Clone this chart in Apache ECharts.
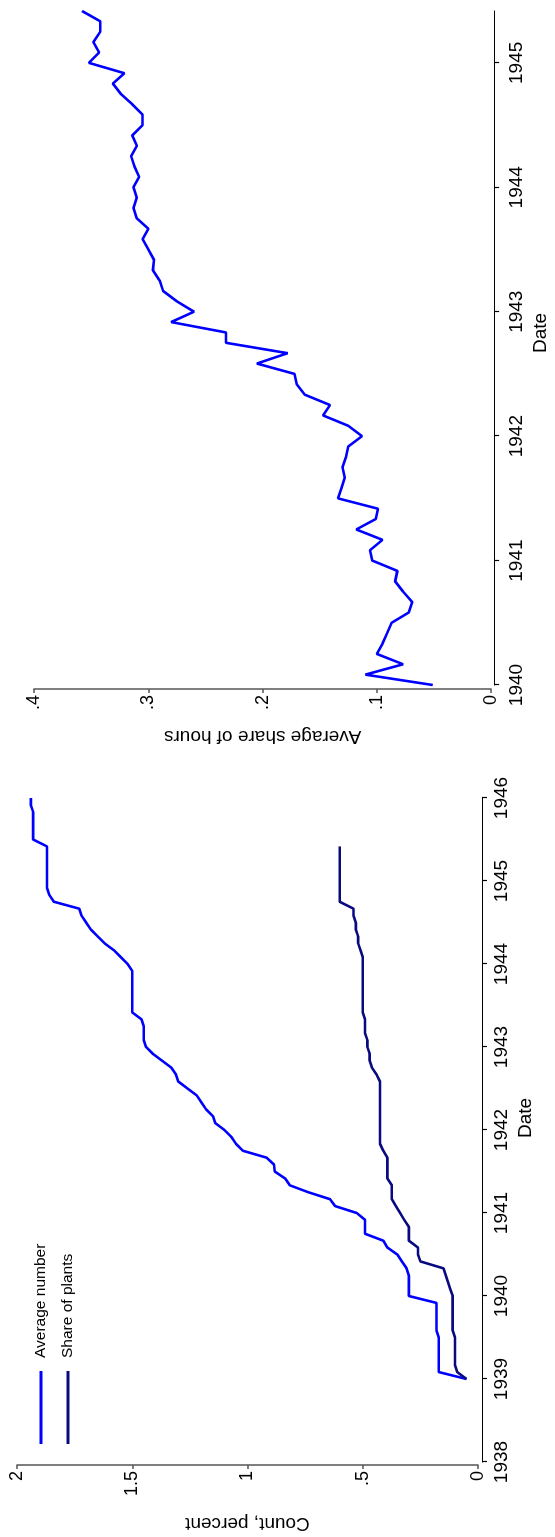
<!DOCTYPE html>
<html><head><meta charset="utf-8">
<script src="https://cdn.jsdelivr.net/npm/echarts@6/dist/echarts.min.js"></script>
<style>
html,body{margin:0;padding:0;background:#fff;width:555px;height:1537px;overflow:hidden}
#chart{position:absolute;left:0;top:0;width:1537px;height:555px;transform-origin:0 0;transform:translate(0,1537px) rotate(-90deg);background:#fff}
</style></head><body>
<div id="chart"></div>
<script>
// ---------- data ----------
const countMonths = [
'1939-01','1939-02','1939-03','1939-04','1939-05','1939-06','1939-07','1939-08','1939-09','1939-10','1939-11','1939-12',
'1940-01','1940-02','1940-03','1940-04','1940-05','1940-06','1940-07','1940-08','1940-09','1940-10','1940-11','1940-12',
'1941-01','1941-02','1941-03','1941-04','1941-05','1941-06','1941-07','1941-08','1941-09','1941-10','1941-11','1941-12',
'1942-01','1942-02','1942-03','1942-04','1942-05','1942-06','1942-07','1942-08','1942-09','1942-10','1942-11','1942-12',
'1943-01','1943-02','1943-03','1943-04','1943-05','1943-06','1943-07','1943-08','1943-09','1943-10','1943-11','1943-12',
'1944-01','1944-02','1944-03','1944-04','1944-05','1944-06','1944-07','1944-08','1944-09','1944-10','1944-11','1944-12',
'1945-01','1945-02','1945-03','1945-04','1945-05','1945-06','1945-07','1945-08','1945-09','1945-10','1945-11','1945-12',
'1946-01'];
// Average number (per month, Jan 1939 - Jan 1946)
const avgNumber = [
0.05,0.17,0.17,0.17,0.17,0.17,0.17,0.18,0.18,0.18,0.18,0.18,
0.30,0.30,0.30,0.30,0.31,0.33,0.35,0.393,0.411,0.49,0.49,0.49,
0.526,0.62,0.642,0.736,0.816,0.837,0.882,0.885,0.917,1.02,1.05,1.07,
1.10,1.14,1.15,1.18,1.20,1.22,1.26,1.30,1.31,1.33,1.37,1.41,
1.44,1.45,1.45,1.45,1.46,1.50,1.50,1.50,1.50,1.50,1.50,1.50,
1.52,1.55,1.58,1.62,1.65,1.68,1.70,1.72,1.73,1.84,1.86,1.87,
1.87,1.87,1.87,1.87,1.87,1.87,1.93,1.93,1.93,1.93,1.93,1.94,
1.94];
// Share of plants (Jan 1939 - Jun 1945)
const shareOfPlants = [
0.05,0.09,0.10,0.10,0.10,0.10,0.10,0.11,0.11,0.11,0.11,0.11,
0.11,0.12,0.13,0.14,0.15,0.25,0.26,0.26,0.30,0.30,0.30,0.32,
0.338,0.356,0.374,0.374,0.374,0.393,0.393,0.393,0.393,0.411,0.425,0.425,
0.425,0.425,0.425,0.425,0.425,0.425,0.425,0.425,0.44,0.46,0.47,0.47,
0.48,0.48,0.49,0.49,0.49,0.50,0.50,0.50,0.50,0.50,0.50,0.50,
0.50,0.50,0.51,0.52,0.52,0.53,0.53,0.54,0.54,0.60,0.60,0.60,
0.60,0.60,0.60,0.60,0.60,0.60];
const hoursMonths = [
'1940-01','1940-02','1940-03','1940-04','1940-05','1940-06','1940-07','1940-08','1940-09','1940-10','1940-11','1940-12',
'1941-01','1941-02','1941-03','1941-04','1941-05','1941-06','1941-07','1941-08','1941-09','1941-10','1941-11','1941-12',
'1942-01','1942-02','1942-03','1942-04','1942-05','1942-06','1942-07','1942-08','1942-09','1942-10','1942-11','1942-12',
'1943-01','1943-02','1943-03','1943-04','1943-05','1943-06','1943-07','1943-08','1943-09','1943-10','1943-11','1943-12',
'1944-01','1944-02','1944-03','1944-04','1944-05','1944-06','1944-07','1944-08','1944-09','1944-10','1944-11','1944-12',
'1945-01','1945-02','1945-03','1945-04','1945-05','1945-06'];
const shareOfHours = [
0.051,0.110,0.077,0.100,0.095,0.091,0.087,0.072,0.069,0.077,0.084,0.082,
0.104,0.106,0.095,0.118,0.101,0.099,0.134,0.131,0.128,0.130,0.127,0.125,
0.113,0.125,0.147,0.141,0.163,0.170,0.172,0.205,0.178,0.232,0.232,0.280,
0.260,0.275,0.287,0.290,0.296,0.295,0.300,0.305,0.300,0.310,0.313,0.310,
0.313,0.308,0.312,0.315,0.310,0.314,0.305,0.305,0.314,0.324,0.331,0.321,
0.352,0.343,0.348,0.342,0.342,0.358];
const countYearTicks = [1938,1939,1940,1941,1942,1943,1944,1945,1946];
const hoursYearTicks = [1940,1941,1942,1943,1944,1945];
const seriesNames = ['Average number','Share of plants','Average share of hours'];

// ---------- helpers ----------
function toYear(s){const p=s.split('-').map(Number);return p[0]+(p[1]-1)/12;}
function stataNum(v){let s=String(Math.round(v*1000)/1000);if(s.indexOf('0.')===0)s=s.slice(1);return s;}
const font="'Liberation Sans', Arial, Helvetica, sans-serif";
const BLUE='#0000ff', NAVY='#0a0a80';

const chart=echarts.init(document.getElementById('chart'),null,{renderer:'canvas',width:1537,height:555});
const dateAxisCommon={
  type:'value', name:'Date', nameLocation:'middle',
  nameTextStyle:{fontSize:19,color:'#000',fontFamily:font},
  axisLine:{show:true,onZero:false,lineStyle:{color:'#000',width:1.2}},
  axisTick:{show:true,length:5,lineStyle:{color:'#000',width:1.2}},
  axisLabel:{fontSize:19,color:'#000',fontFamily:font,formatter:v=>String(Math.round(v))},
  splitLine:{show:false}
};
const valAxisCommon={
  type:'value', nameLocation:'middle',
  nameTextStyle:{fontSize:19,color:'#000',fontFamily:font},
  axisLine:{show:true,onZero:false,lineStyle:{color:'#555',width:1.5}},
  axisTick:{show:true,length:4,lineStyle:{color:'#555',width:1.5}},
  axisLabel:{fontSize:18,color:'#000',fontFamily:font,margin:6,formatter:stataNum},
  splitLine:{show:false}
};
const option={
  animation:false,
  backgroundColor:'#fff',
  textStyle:{fontFamily:font},
  grid:[
    {left:75,right:1537-739,top:17,bottom:555-478},
    {left:852,right:1537-1526,top:34,bottom:555-499}
  ],
  legend:{
    data:[seriesNames[0],seriesNames[1]],
    orient:'vertical',left:88,top:27,icon:'rect',itemWidth:73,itemHeight:3,itemGap:9,
    textStyle:{fontSize:15.5,color:'#000',lineHeight:18,fontFamily:font,padding:[0,0,0,8]}
  },
  xAxis:[
    Object.assign({},dateAxisCommon,{gridIndex:0,min:countYearTicks[0],max:countYearTicks[countYearTicks.length-1],interval:1,offset:4,nameGap:30,
      nameTextStyle:Object.assign({},dateAxisCommon.nameTextStyle,{padding:[0,0,0,24]}),
      axisLabel:Object.assign({},dateAxisCommon.axisLabel,{margin:10})}),
    Object.assign({},dateAxisCommon,{gridIndex:1,min:hoursYearTicks[0],max:'dataMax',offset:3,nameGap:36,
      nameTextStyle:Object.assign({},dateAxisCommon.nameTextStyle,{padding:[0,0,0,30]}),
      axisTick:Object.assign({},dateAxisCommon.axisTick,{customValues:hoursYearTicks}),
      axisLabel:Object.assign({},dateAxisCommon.axisLabel,{margin:13,customValues:hoursYearTicks})})
  ],
  yAxis:[
    Object.assign({},valAxisCommon,{gridIndex:0,min:0,max:2,interval:0.5,offset:3,name:'Count, percent',nameGap:49}),
    Object.assign({},valAxisCommon,{gridIndex:1,min:0,max:0.4,interval:0.1,offset:4,name:'Average share of hours',nameGap:38})
  ],
  series:[
    {type:'line',name:seriesNames[0],xAxisIndex:0,yAxisIndex:0,showSymbol:false,
     data:avgNumber.map((v,i)=>[toYear(countMonths[i]),v]),
     lineStyle:{width:2.6,color:BLUE},itemStyle:{color:BLUE}},
    {type:'line',name:seriesNames[1],xAxisIndex:0,yAxisIndex:0,showSymbol:false,
     data:shareOfPlants.map((v,i)=>[toYear(countMonths[i]),v]),
     lineStyle:{width:2.6,color:NAVY},itemStyle:{color:NAVY}},
    {type:'line',name:seriesNames[2],xAxisIndex:1,yAxisIndex:1,showSymbol:false,
     data:shareOfHours.map((v,i)=>[toYear(hoursMonths[i]),v]),
     lineStyle:{width:2.6,color:BLUE},itemStyle:{color:BLUE}}
  ]
};
chart.setOption(option);
</script>
</body></html>
